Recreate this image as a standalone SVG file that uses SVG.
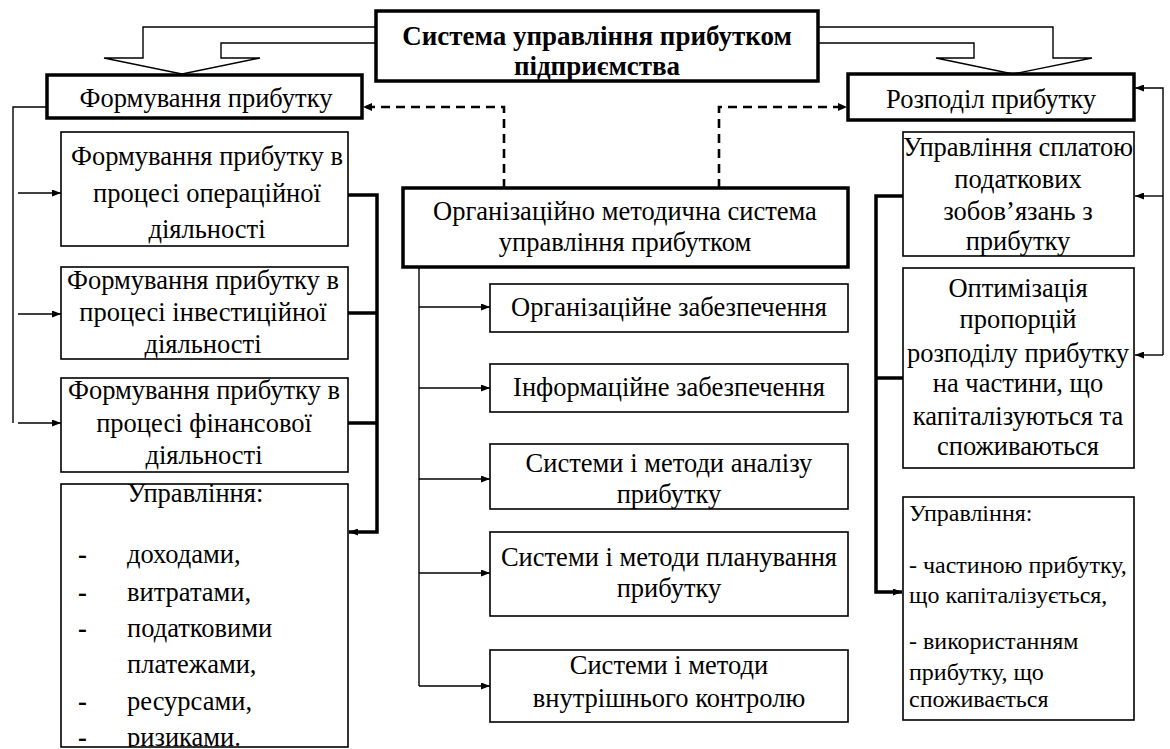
<svg xmlns="http://www.w3.org/2000/svg" width="1170" height="749" viewBox="0 0 1170 749" font-family="'Liberation Serif',serif">
<style>
text{font-family:'Liberation Serif','Times New Roman',serif;font-size:26.5px;fill:#000}
.c{text-anchor:middle}
.b{font-weight:bold;font-size:27px}
.d{font-weight:bold}
.s{font-size:24px}
.box{fill:#fff;stroke:#000;stroke-width:1.6}
.tbox{fill:#fff;stroke:#000;stroke-width:3.5}
.thin{fill:none;stroke:#000;stroke-width:1.4}
.thick{fill:none;stroke:#000;stroke-width:3.5}
.dash{fill:none;stroke:#000;stroke-width:2.6;stroke-dasharray:9 6}
.blk{fill:#fff;stroke:#000;stroke-width:1.4}
</style>
<defs>
<marker id="ah" viewBox="0 0 9 7" refX="9" refY="3.5" markerWidth="9" markerHeight="7" markerUnits="userSpaceOnUse" orient="auto"><path d="M0,0 L9,3.5 L0,7 z" fill="#000"/></marker>
<marker id="ahd" viewBox="0 0 9 8" refX="9" refY="4" markerWidth="9" markerHeight="8" markerUnits="userSpaceOnUse" orient="auto"><path d="M0,0 L9,4 L0,8 z" fill="#000"/></marker>
<clipPath id="clipL"><rect x="61" y="470" width="288" height="277"/></clipPath>
</defs>
<rect width="1170" height="749" fill="#fff"/>
<g id="connectors">
<polygon class="blk" points="376,27 143,27 143,58 104,58 182,74 260,58 221,58 221,43 376,43"/>
<polygon class="blk" points="818,27 1053,27 1053,58 1092,58 1013,74 936,58 974,58 974,43 818,43"/>
<path class="dash" d="M504,188 V107 H363" marker-end="url(#ahd)"/>
<path class="dash" d="M719,188 V107 H847" marker-end="url(#ahd)"/>
<path class="thin" d="M47,107 H13 V423"/>
<path class="thin" d="M18,193 H61" marker-end="url(#ah)"/>
<path class="thin" d="M18,314 H61" marker-end="url(#ah)"/>
<path class="thin" d="M18,423 H61" marker-end="url(#ah)"/>
<path class="thick" d="M348,195 H377 V532 H349" marker-end="url(#ah)"/>
<path class="thick" d="M348,313 H377"/>
<path class="thick" d="M348,423 H377"/>
<path class="thin" d="M419,267 V686"/>
<path class="thin" d="M419,307 H490" marker-end="url(#ah)"/>
<path class="thin" d="M419,388 H490" marker-end="url(#ah)"/>
<path class="thin" d="M419,479 H490" marker-end="url(#ah)"/>
<path class="thin" d="M419,573 H490" marker-end="url(#ah)"/>
<path class="thin" d="M419,686 H490" marker-end="url(#ah)"/>
<path class="thin" d="M1163,355 V88 H1135" marker-end="url(#ah)"/>
<path class="thin" d="M1163,196 H1135" marker-end="url(#ah)"/>
<path class="thin" d="M1163,355 H1135" marker-end="url(#ah)"/>
<path class="thick" d="M903,196 H876 V592 H902" marker-end="url(#ah)"/>
<path class="thick" d="M876,378 H903"/>
</g>
<g id="top">
<rect class="tbox" x="376" y="11" width="442" height="70"/>
<text class="c b" x="597" y="45">Система управління прибутком</text>
<text class="c b" x="597" y="75">підприємства</text>
</g>
<g id="form">
<rect class="tbox" x="47" y="75" width="315" height="43"/>
<text class="c" x="206" y="107">Формування прибутку</text>
</g>
<g id="form-op">
<rect class="box" x="61" y="132" width="287" height="114"/>
<text class="c" x="207" y="165">Формування прибутку в</text>
<text class="c" x="207" y="202">процесі операційної</text>
<text class="c" x="207" y="238">діяльності</text>
</g>
<g id="form-inv">
<rect class="box" x="61" y="267" width="287" height="92"/>
<text class="c" x="203" y="289">Формування прибутку в</text>
<text class="c" x="203" y="321">процесі інвестиційної</text>
<text class="c" x="203" y="353">діяльності</text>
</g>
<g id="form-fin">
<rect class="box" x="61" y="378" width="287" height="94"/>
<text class="c" x="204" y="399">Формування прибутку в</text>
<text class="c" x="204" y="432">процесі фінансової</text>
<text class="c" x="204" y="464">діяльності</text>
</g>
<g id="form-mgmt">
<rect class="box" x="61" y="484" width="287" height="263"/>
<g clip-path="url(#clipL)">
<text x="127" y="502">Управління:</text>
<text class="d" x="78" y="563">-</text><text x="127" y="563">доходами,</text>
<text class="d" x="78" y="601">-</text><text x="127" y="601">витратами,</text>
<text class="d" x="78" y="637">-</text><text x="127" y="637">податковими</text>
<text x="127" y="673">платежами,</text>
<text class="d" x="78" y="710">-</text><text x="127" y="710">ресурсами,</text>
<text class="d" x="78" y="746">-</text><text x="127" y="746">ризиками.</text>
</g>
</g>
<g id="org">
<rect class="tbox" x="403" y="188" width="445" height="79"/>
<text class="c" x="625" y="220">Організаційно методична система</text>
<text class="c" x="625" y="251">управління прибутком</text>
</g>
<g id="org1">
<rect class="box" x="490" y="284" width="358" height="48"/>
<text class="c" x="669" y="316">Організаційне забезпечення</text>
</g>
<g id="org2">
<rect class="box" x="490" y="364" width="358" height="48"/>
<text class="c" x="669" y="396">Інформаційне забезпечення</text>
</g>
<g id="org3">
<rect class="box" x="490" y="444" width="358" height="65"/>
<text class="c" x="669" y="472">Системи і методи аналізу</text>
<text class="c" x="669" y="503">прибутку</text>
</g>
<g id="org4">
<rect class="box" x="490" y="532" width="358" height="84"/>
<text class="c" x="669" y="566">Системи і методи планування</text>
<text class="c" x="669" y="597">прибутку</text>
</g>
<g id="org5">
<rect class="box" x="490" y="650" width="358" height="72"/>
<text class="c" x="669" y="674">Системи і методи</text>
<text class="c" x="669" y="707">внутрішнього контролю</text>
</g>
<g id="distr">
<rect class="tbox" x="848" y="74" width="286" height="46"/>
<text class="c" x="991" y="108">Розподіл прибутку</text>
</g>
<g id="distr-tax">
<rect class="box" x="903" y="132" width="231" height="124"/>
<text class="c" x="1018" y="156">Управління сплатою</text>
<text class="c" x="1018" y="188">податкових</text>
<text class="c" x="1018" y="220">зобов’язань з</text>
<text class="c" x="1018" y="250">прибутку</text>
</g>
<g id="distr-opt">
<rect class="box" x="903" y="268" width="231" height="200"/>
<text class="c" x="1018" y="297">Оптимізація</text>
<text class="c" x="1018" y="328">пропорцій</text>
<text class="c" x="1018" y="362">розподілу прибутку</text>
<text class="c" x="1018" y="392">на частини, що</text>
<text class="c" x="1018" y="425">капіталізуються та</text>
<text class="c" x="1018" y="455">споживаються</text>
</g>
<g id="distr-mgmt">
<rect class="box" x="903" y="497" width="231" height="223"/>
<text class="s" x="909" y="521">Управління:</text>
<text class="s" x="909" y="573">- частиною прибутку,</text>
<text class="s" x="909" y="603">що капіталізується,</text>
<text class="s" x="909" y="649">- використанням</text>
<text class="s" x="909" y="680">прибутку, що</text>
<text class="s" x="909" y="707">споживається</text>
</g>
</svg>
